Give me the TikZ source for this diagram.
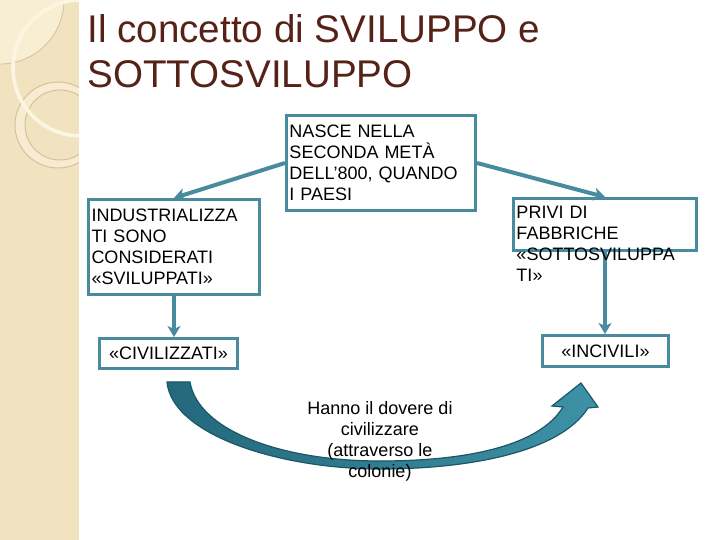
\documentclass[tikz,border=0pt]{standalone}
\usepackage{fontspec}
\setmainfont{Liberation Sans}
\usetikzlibrary{arrows.meta,positioning,backgrounds}
\definecolor{slideBeige}{RGB}{242,227,192}
\definecolor{slideCream}{RGB}{252,245,226}
\definecolor{slideRing}{RGB}{214,193,150}
\definecolor{titleBrown}{RGB}{86,34,24}
\definecolor{flowTeal}{RGB}{72,138,158}
\definecolor{curveDark}{RGB}{36,104,124}
\definecolor{curveLight}{RGB}{62,146,166}
\definecolor{curveEdge}{RGB}{28,86,104}
\tikzset{
  conceptbox/.style={
    rectangle, draw=flowTeal, line width=1.5pt, fill=white, text=black,
    align=left, anchor=north west, inner xsep=1.5pt, inner ysep=2pt,
    font=\fontsize{9}{10.5}\selectfont},
  labelbox/.style={
    conceptbox, align=center, inner sep=0pt},
  arrowline/.style={-{Stealth[length=5.5pt,width=6.5pt,inset=1.5pt]}, line width=2pt, draw=flowTeal}
}

\begin{document}
\begin{tikzpicture}[x=0.5pt,y=-0.5pt]
        \useasboundingbox (0,0) rectangle (720,540);

        % side band of the slide
        \begin{scope}
          \clip (0,0) rectangle (79,540);
          \fill[slideBeige] (0,0) rectangle (79,540);
          \fill[slideCream!60!slideBeige] (0,0) circle[radius=64];
          \draw[slideRing, line width=0.4pt] (0,0) circle[radius=64];
          \fill[slideCream!50!slideBeige, even odd rule] (58,125) circle[radius=43] (60,125) circle[radius=35];
          \draw[slideRing, line width=0.5pt] (58,125) circle[radius=43] (60,125) circle[radius=35];
          \draw[slideCream, line width=1.8pt] (81,68) circle[radius=68];
        \end{scope}

        \node[anchor=north west, inner sep=0pt, align=left, text=titleBrown,
              font=\fontsize{19.3}{22.5}\selectfont] (title) at (87,14)
              {Il concetto di SVILUPPO e\\SOTTOSVILUPPO};

        \node[conceptbox, text width=91.5pt, minimum height=47.5pt] (nasce) at (285,114)
              {NASCE NELLA\\SECONDA METÀ\\DELL’800, QUANDO\\I PAESI};
        \node[conceptbox, text width=82.5pt, minimum height=47.5pt] (indus) at (87,198)
              {INDUSTRIALIZZA\\TI SONO\\CONSIDERATI\\«SVILUPPATI»};
        \node[conceptbox, text width=88.5pt, inner ysep=3.5pt, text height=6.5pt, text depth=12.5pt,
              fill=none] (privi) at (512,197)
              {PRIVI DI\\FABBRICHE\\«SOTTOSVILUPPA\\TI»};

        \node[labelbox, minimum width=69pt, minimum height=15pt] (civil) at (98,337) {«CIVILIZZATI»};
        \node[labelbox, minimum width=63pt, minimum height=15.5pt] (incivili) at (541,334) {«INCIVILI»};

        % big curved arrow
        \begin{pgfonlayer}{background}
          \shadedraw[left color=curveDark, right color=curveLight, draw=curveEdge, line width=0.6pt]
            (167,382) .. controls (172,435) and (280,469) .. (380,469)
            .. controls (470,469) and (560,452) .. (588,408)
            -- (598,407) -- (581,383) -- (552,406) -- (563,407)
            .. controls (540,445) and (470,461) .. (380,461)
            .. controls (280,461) and (198,430) .. (190,382) -- cycle;

          \draw[arrowline] (nasce.west) -- (indus.north);
          \draw[arrowline] (nasce.east) -- (privi.north);
          \draw[arrowline] (indus.south) -- (indus.south |- civil.north);
          \draw[arrowline] (privi.south) -- (privi.south |- incivili.north);
        \end{pgfonlayer}

        \node[anchor=north, align=center, inner sep=0pt, font=\fontsize{9}{10.5}\selectfont] (duty) at (380,401)
              {Hanno il dovere di\\civilizzare\\(attraverso le\\colonie)};
      \end{tikzpicture}
\end{document}
